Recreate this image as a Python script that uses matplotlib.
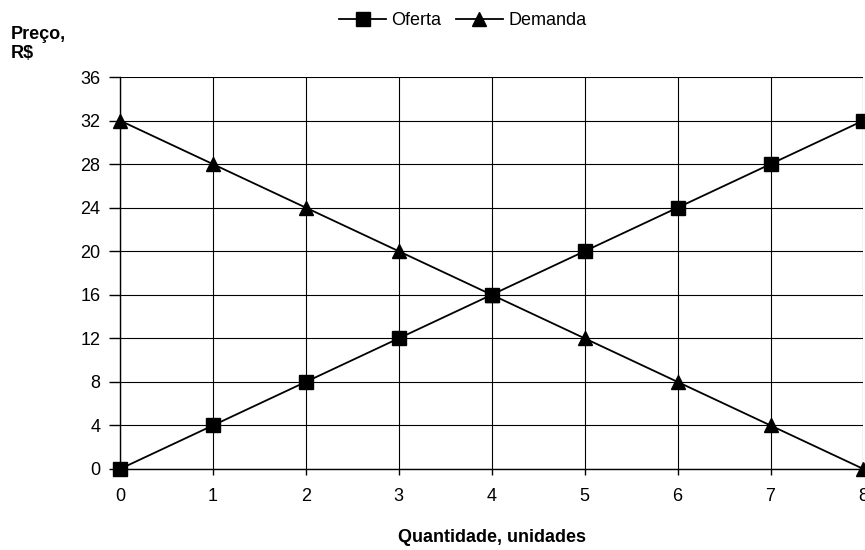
import matplotlib.pyplot as plt

plt.rcParams["font.family"] = ["Liberation Sans", "DejaVu Sans"]

quantidade = [0, 1, 2, 3, 4, 5, 6, 7, 8]
oferta = [0, 4, 8, 12, 16, 20, 24, 28, 32]
demanda = [32, 28, 24, 20, 16, 12, 8, 4, 0]
y_ticks = [0, 4, 8, 12, 16, 20, 24, 28, 32, 36]

fig = plt.figure(figsize=(8.65, 5.5), dpi=100)
ax = fig.add_axes([0.1387, 0.1473, 0.8595, 0.7127])

ax.plot(quantidade, oferta, color="black", lw=1.3, marker="s", ms=10,
        label="Oferta", clip_on=False, zorder=3)
ax.plot(quantidade, demanda, color="black", lw=1.3, marker="^", ms=10,
        label="Demanda", clip_on=False, zorder=3)

ax.set_xlim(0, 8)
ax.set_ylim(0, 36)
ax.set_xticks(quantidade)
ax.set_yticks(y_ticks)
ax.grid(color="black", lw=0.8)
ax.set_axisbelow(True)
for side in ("top", "right"):
    ax.spines[side].set_visible(False)
for side in ("left", "bottom"):
    ax.spines[side].set_linewidth(1.0)
ax.tick_params(axis="y", length=8, width=1, labelsize=13, pad=6)
ax.tick_params(axis="x", length=4, width=1, labelsize=13, pad=10)

ax.set_xlabel("Quantidade, unidades", fontsize=13, fontweight="bold", labelpad=17)
fig.text(0.012, 0.953, "Preço,\nR$", fontsize=13, fontweight="bold",
         ha="left", va="top", linespacing=1.15)

fig.legend(loc="upper center", bbox_to_anchor=(0.535, 1.008), ncol=2,
           frameon=False, fontsize=13, handlelength=2.6, columnspacing=0.8,
           handletextpad=0.3)

fig.savefig("out.png")
